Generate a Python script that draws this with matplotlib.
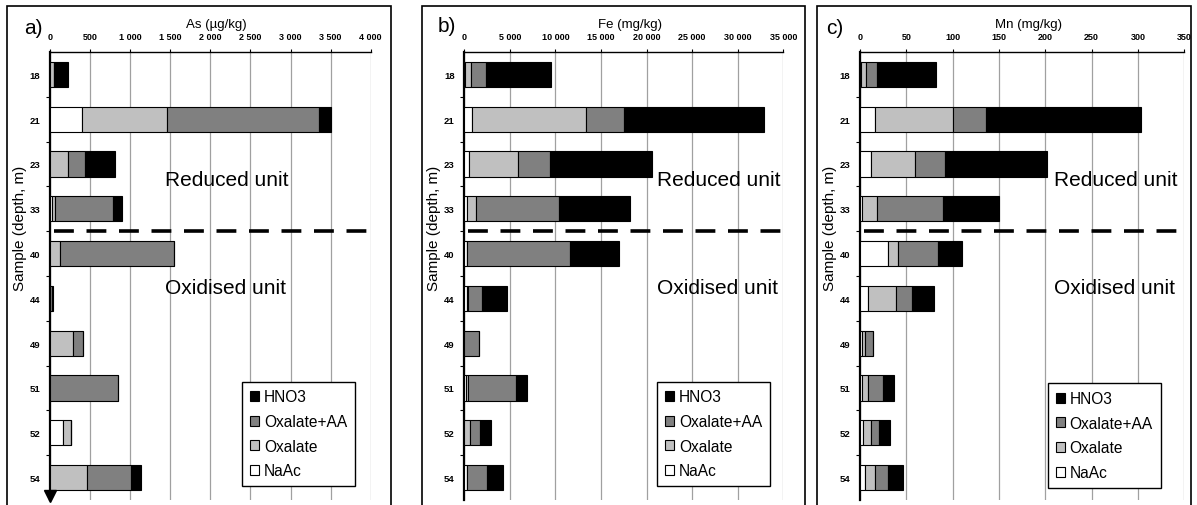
import numpy as np
import matplotlib
matplotlib.use("Agg")
import matplotlib.pyplot as plt
from matplotlib.patches import Rectangle
from matplotlib.ticker import FuncFormatter, MultipleLocator

plt.rcParams['font.family'] = ['Liberation Sans', 'DejaVu Sans']

samples = ['18', '21', '23', '33', '40', '44', '49', '51', '52', '54']
fractions = ['NaAc', 'Oxalate', 'Oxalate+AA', 'HNO3']
colors = ['white', '#c0c0c0', '#808080', 'black']

# As (ug/kg)
as_naac = [0, 400, 0, 20, 0, 0, 0, 0, 166, 0]
as_oxalate = [50, 1065, 220, 42, 125, 0, 283, 0, 92, 466]
as_oxaa = [0, 1895, 212, 728, 1418, 25, 129, 852, 0, 549]
as_hno3 = [180, 145, 375, 108, 0, 8, 0, 0, 0, 124]

# Fe (mg/kg)
fe_naac = [80, 805, 549, 293, 256, 250, 0, 150, 0, 256]
fe_oxalate = [650, 12580, 5375, 1023, 0, 116, 0, 289, 585, 0]
fe_oxaa = [1646, 4170, 3474, 9070, 11373, 1572, 1572, 5266, 1170, 2267]
fe_hno3 = [7095, 15286, 11191, 7789, 5303, 2779, 0, 1134, 1171, 1719]

# Mn (mg/kg)
mn_naac = [1, 16.2, 11.9, 2.2, 29.9, 8.6, 1.8, 1.8, 3.6, 5.4]
mn_oxalate = [5.8, 84.5, 47.1, 16.1, 10.7, 30.6, 4.0, 7.2, 8.3, 11.1]
mn_oxaa = [11.5, 34.9, 32.7, 71.3, 43.6, 16.9, 7.9, 15.8, 8.6, 13.7]
mn_hno3 = [63.4, 167.3, 110.1, 60.8, 25.5, 23.4, 0, 11.9, 11.9, 15.8]

panels = [
    ('a)', 'As (µg/kg)', [as_naac, as_oxalate, as_oxaa, as_hno3], 4000, 500),
    ('b)', 'Fe (mg/kg)', [fe_naac, fe_oxalate, fe_oxaa, fe_hno3], 35000, 5000),
    ('c)', 'Mn (mg/kg)', [mn_naac, mn_oxalate, mn_oxaa, mn_hno3], 350, 50),
]

W, H = 1197, 506
fig = plt.figure(figsize=(W / 100, H / 100), dpi=100)

# layout in pixels
ax_px = [(50, 370.7), (464.3, 783.3), (860, 1184.3)]
box_px = [(7, 391), (422, 805), (817, 1191)]
legend_anchor = [(0.951, 0.031), (0.958, 0.031), (0.927, 0.027)]
text_x = [0.359, 0.603, 0.598]
label_xy = [(33, 28), (447, 26), (835, 29)]
top, bottom = 53, 501


def thousands(v, pos):
    return f'{int(v):,}'.replace(',', ' ')


for i, (tag, title, data, xmax, step) in enumerate(panels):
    x0, x1 = ax_px[i]
    ax = fig.add_axes([x0 / W, 1 - bottom / H, (x1 - x0) / W, (bottom - top) / H])

    # panel frame (open at the bottom edge of the image)
    bx0, bx1 = box_px[i]
    fig.patches.append(Rectangle((bx0 / W, -0.1), (bx1 - bx0) / W, 1 - 7 / H + 0.1,
                                 transform=fig.transFigure, fill=False,
                                 edgecolor='black', lw=1.2, zorder=0))

    y = np.arange(len(samples))
    left = np.zeros(len(samples))
    bars = []
    for vals, col, name in zip(data, colors, fractions):
        vals = np.array(vals, dtype=float)
        b = ax.barh(y, vals, left=left, height=0.56, color=col,
                    edgecolor='black', lw=0.8, label=name, zorder=3)
        bars.append(b)
        left += vals

    ax.set_xlim(0, xmax)
    ax.set_ylim(len(samples) - 0.5, -0.5)
    ax.xaxis.set_major_locator(MultipleLocator(step))
    ax.xaxis.set_major_formatter(FuncFormatter(thousands))
    ax.xaxis.tick_top()
    ax.tick_params(axis='x', length=2, pad=6, labelsize=6.5, width=0.8)
    for lab in ax.get_xticklabels():
        lab.set_fontweight('bold')
    ax.grid(axis='x', color='#a0a0a0', lw=0.9, zorder=0)

    ax.set_yticks(y)
    ax.set_yticklabels(samples, fontsize=6.8, fontweight='bold')
    ax.set_yticks(np.arange(0.5, len(samples) - 0.5), minor=True)
    ax.tick_params(axis='y', which='major', length=0, pad=7)
    ax.tick_params(axis='y', which='minor', length=3, width=0.8)

    ax.spines['right'].set_visible(False)
    ax.spines['bottom'].set_visible(False)
    ax.spines['left'].set_linewidth(1.6)
    ax.spines['top'].set_linewidth(1.0)

    # boundary between reduced and oxidised units
    ax.axhline(3.5, xmin=0.012, xmax=1.0, color='black', lw=2.6,
               dashes=(5.5, 3.5), clip_on=False, zorder=4)
    ax.text(text_x[i], 2.34, 'Reduced unit', transform=ax.get_yaxis_transform(),
            fontsize=15, va='center', ha='left', zorder=5)
    ax.text(text_x[i], 4.76, 'Oxidised unit', transform=ax.get_yaxis_transform(),
            fontsize=15, va='center', ha='left', zorder=5)

    ax.text(0.52, 1 + 28 / (bottom - top), title, transform=ax.transAxes,
            fontsize=9.5, ha='center', va='center')
    fig.text(label_xy[i][0] / W, 1 - label_xy[i][1] / H, tag,
             fontsize=15, ha='center', va='center')
    fig.text((x0 - 30) / W, 1 - 228 / H, 'Sample (depth, m)', rotation=90,
             fontsize=11, ha='center', va='center')

    leg = ax.legend(bars[::-1], fractions[::-1], loc='lower right',
                    bbox_to_anchor=legend_anchor[i], borderaxespad=0,
                    fontsize=11.2, fancybox=False, framealpha=1,
                    handlelength=0.6, handleheight=0.6, handletextpad=0.3,
                    labelspacing=0.62, borderpad=0.5)
    leg.get_frame().set_edgecolor('black')
    leg.get_frame().set_linewidth(1.0)
    leg.set_zorder(6)

    if i == 0:
        # depth arrow at the bottom of the y axis
        ax.plot([0], [0.008], marker='v', color='black', markersize=8,
                transform=ax.transAxes, clip_on=False, zorder=6)

fig.savefig('out.png', dpi=100)
